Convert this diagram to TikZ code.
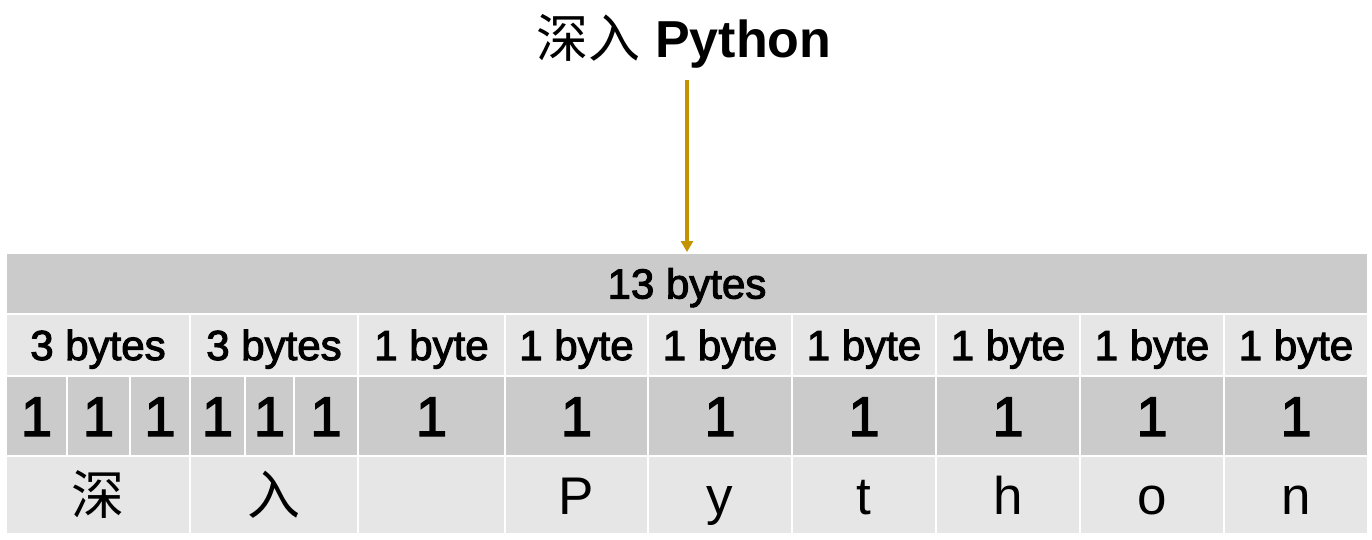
\documentclass[tikz,border=0pt]{standalone}
\usepackage{fontspec}
\setmainfont{Liberation Sans}
\newfontfamily\cjk{Noto Sans CJK SC}
\newfontfamily\medfont{Liberation Sans}[FakeBold=2.5]
\usetikzlibrary{positioning}
\usetikzlibrary{arrows.meta}
\usetikzlibrary{math}

\definecolor{cellDark}{RGB}{203,203,203}
\definecolor{cellLight}{RGB}{230,230,230}
\definecolor{arrowGold}{RGB}{196,148,0}

\tikzset{
  cell/.style={draw=white, line width=2pt, inner sep=0pt, anchor=north west},
  headcell/.style={cell, fill=cellDark, font=\medfont\fontsize{42}{48}\selectfont, text height=30pt, text depth=0pt},
  sizecell/.style={cell, fill=cellLight, font=\medfont\fontsize{42}{48}\selectfont, text height=30pt, text depth=0pt},
  countcell/.style={cell, fill=cellDark, font=\medfont\fontsize{56}{62}\selectfont, text height=40pt, text depth=0pt},
  charcell/.style={cell, fill=cellLight, font=\fontsize{53}{60}\selectfont, text height=38pt, text depth=0pt},
  titletext/.style={inner sep=0pt, anchor=base, font=\fontsize{52}{60}\selectfont},
  goldarrow/.style={arrowGold, line width=3.5pt, -{Triangle[width=12pt,length=11pt]}}
}

\begin{document}
\begin{tikzpicture}[x=1pt, y=-1pt]
      \tikzmath{
        \yA = 252;
        \yB = 313;
        \yC = 375;
        \yD = 455;
        \yE = 533;
      }
      \useasboundingbox (0,0) rectangle (1372,539);

      % title
      \node[titletext] (title) at (684,57) {{\cjk 深入} \textbf{Python}};

      % total
      \node[headcell, minimum width=1362pt, minimum height={(\yB-\yA)*1pt}] (total) at (5,\yA) {13 bytes};

      % sizes
      \foreach \xa/\xb/\lab [count=\i] in {5/189/3 bytes, 189/357/3 bytes, 357/504/1 byte, 504/647/1 byte, 647/791/1 byte, 791/935/1 byte, 935/1079/1 byte, 1079/1223/1 byte, 1223/1367/1 byte}
        \node[sizecell, minimum width={(\xb-\xa)*1pt}, minimum height={(\yC-\yB)*1pt}] (size\i) at (\xa,\yB) {\lab};

      % byte counts of the two wide characters
      \foreach \xa/\xb [count=\i] in {5/66, 66/129, 129/189, 189/244, 244/293, 293/357}
        \node[countcell, minimum width={(\xb-\xa)*1pt}, minimum height={(\yD-\yC)*1pt}] (bit\i) at (\xa,\yC) {1};

      % byte counts of the single characters
      \foreach \xa/\xb [count=\i] in {357/504, 504/647, 647/791, 791/935, 935/1079, 1079/1223, 1223/1367}
        \node[countcell, minimum width={(\xb-\xa)*1pt}, minimum height={(\yD-\yC)*1pt}] (one\i) at (\xa,\yC) {1};

      % characters
      \foreach \xa/\xb/\ch [count=\i] in {5/189/{\cjk 深}, 189/357/{\cjk 入}, 357/504/{}, 504/647/P, 647/791/y, 791/935/t, 935/1079/h, 1079/1223/o, 1223/1367/n}
        \node[charcell, minimum width={(\xb-\xa)*1pt}, minimum height={(\yE-\yD)*1pt}] (char\i) at (\xa,\yD) {\ch};

      % arrow
      \draw[goldarrow, shorten <=12pt] (total.north |- title.south) -- (total.north);

    \end{tikzpicture}
\end{document}
